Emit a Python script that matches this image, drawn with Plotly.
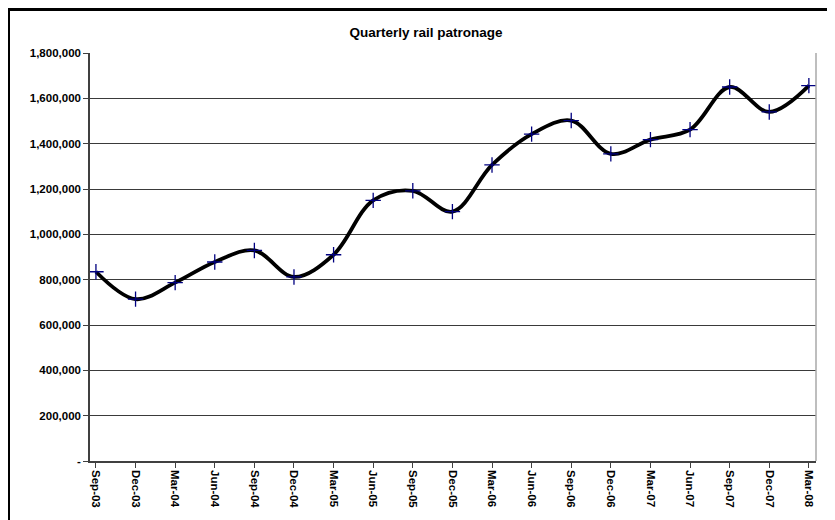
import plotly.graph_objects as go

quarters = ["Sep-03", "Dec-03", "Mar-04", "Jun-04", "Sep-04", "Dec-04", "Mar-05",
            "Jun-05", "Sep-05", "Dec-05", "Mar-06", "Jun-06", "Sep-06", "Dec-06",
            "Mar-07", "Jun-07", "Sep-07", "Dec-07", "Mar-08"]
patronage = [835000, 714000, 787000, 878000, 929000, 812000, 910000,
             1150000, 1192000, 1100000, 1306000, 1442000, 1502000, 1355000,
             1418000, 1462000, 1650000, 1540000, 1656000]
y_ticks = [0, 200000, 400000, 600000, 800000, 1000000, 1200000, 1400000, 1600000, 1800000]
y_labels = ["-", "200,000", "400,000", "600,000", "800,000", "1,000,000",
            "1,200,000", "1,400,000", "1,600,000", "1,800,000"]

# page is offset by the 8px body margin
OFF = 8
W, H = 835, 520
L, R, T, B = 90 - OFF, 835 - (816 - OFF), 53 - OFF, 520 - (461 - OFF)
pw, ph = W - L - R, H - T - B

fig = go.Figure()
fig.add_trace(go.Scatter(
    x=list(range(len(quarters))), y=patronage,
    mode="lines+markers",
    line=dict(color="black", width=3.8, shape="spline", smoothing=1.0),
    marker=dict(symbol="cross-thin", size=11, color="#000080",
                line=dict(color="#000080", width=1.3)),
    showlegend=False, hoverinfo="x+y",
))

def px_to_paper_x(px):
    return (px - OFF - L) / pw

def px_to_paper_y(py):
    return (H - B - (py - OFF)) / ph

fig.update_layout(
    width=W, height=H,
    margin=dict(l=L, r=R, t=T, b=B),
    paper_bgcolor="white", plot_bgcolor="white",
    font=dict(family="Liberation Sans, Arial, sans-serif", color="black"),
    title=dict(text="<b>Quarterly rail patronage</b>", font=dict(size=13.5, color="black"),
               x=(426 - OFF) / W, xref="container", xanchor="center",
               y=1 - (32 - OFF) / H, yref="container", yanchor="middle"),
    xaxis=dict(
        range=[-0.15, 18.18],
        tickmode="array", tickvals=list(range(len(quarters))), ticktext=[f"<b>{q}</b>" for q in quarters],
        tickangle=90, tickfont=dict(size=11.5, color="black"),
        showgrid=False, zeroline=False,
        showline=True, linecolor="#404040", linewidth=1.5,
        ticks="outside", ticklen=5, tickcolor="#404040",
    ),
    yaxis=dict(
        range=[0, 1800000],
        tickmode="array", tickvals=y_ticks, ticktext=[f"<b>{t}</b>" for t in y_labels],
        tickfont=dict(size=11.5, color="black"),
        showgrid=True, gridcolor="#3a3a3a", gridwidth=1,
        zeroline=False,
        showline=True, linecolor="#404040", linewidth=1.5,
        ticks="outside", ticklen=5, tickcolor="#404040",
    ),
    shapes=[
        dict(type="line", xref="paper", yref="paper", x0=1, x1=1, y0=0, y1=1,
             line=dict(color="#a8a8a8", width=1.5)),
        dict(type="rect", xref="paper", yref="paper",
             x0=px_to_paper_x(8), x1=px_to_paper_x(860),
             y0=px_to_paper_y(560), y1=px_to_paper_y(9),
             line=dict(color="black", width=4), fillcolor="rgba(0,0,0,0)", layer="above"),
    ],
)

fig.write_html("out.html")
